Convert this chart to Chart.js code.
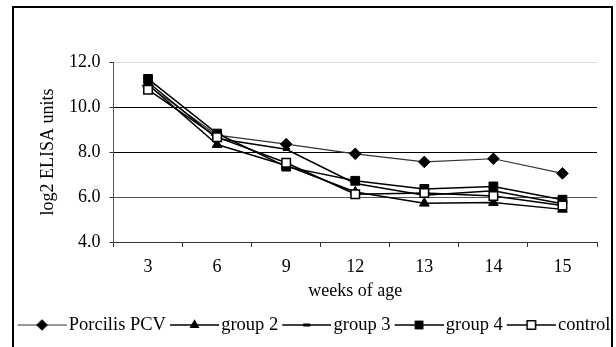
<!DOCTYPE html>
<html><head><meta charset="utf-8">
<script src="https://cdn.jsdelivr.net/npm/chart.js@4"></script>
<style>
html,body{margin:0;padding:0;background:#fff;overflow:hidden;width:616px;height:347px;}
#c{position:absolute;left:0;top:0;background:#fff;}
#frame{position:absolute;left:12px;top:6px;width:597px;height:400px;border:2px solid #000;pointer-events:none;}
</style></head><body>
<canvas id="c" width="632" height="347"></canvas>
<div id="frame"></div>
<script>
const categories = ['3', '6', '9', '12', '13', '14', '15'];
const porcilisPCV = [10.95, 8.75, 8.35, 7.92, 7.56, 7.7, 7.05];
const group2 = [11.0, 8.33, 7.4, 6.22, 5.72, 5.75, 5.45];
const group3 = [11.1, 8.6, 8.12, 6.6, 6.08, 6.28, 5.7];
const group4 = [11.25, 8.82, 7.35, 6.72, 6.36, 6.47, 5.88];
const control = [10.77, 8.66, 7.52, 6.12, 6.18, 6.04, 5.62];
const seriesNames = ['Porcilis PCV', 'group 2', 'group 3', 'group 4', 'control'];
const yTickValues = [4, 6, 8, 10, 12];

const FONT = "'Liberation Serif', 'Times New Roman', serif";

function drawMarker(ctx, shape, x, y) {
  ctx.save();
  ctx.fillStyle = '#000'; ctx.strokeStyle = '#000'; ctx.lineWidth = 1;
  ctx.beginPath();
  if (shape === 'diamond') {
    const r = 5.8;
    ctx.moveTo(x, y - r); ctx.lineTo(x + r, y); ctx.lineTo(x, y + r); ctx.lineTo(x - r, y); ctx.closePath();
    ctx.fill();
  } else if (shape === 'triangle') {
    const r = 5.8;
    ctx.moveTo(x, y - r);
    ctx.lineTo(x + r * Math.sin(2 * Math.PI / 3), y + r / 2);
    ctx.lineTo(x - r * Math.sin(2 * Math.PI / 3), y + r / 2);
    ctx.closePath(); ctx.fill();
  } else if (shape === 'dash') {
    ctx.rect(x - 3.5, y - 1.5, 7, 3); ctx.fill();
  } else if (shape === 'square') {
    ctx.rect(x - 4.4, y - 4.4, 8.8, 8.8); ctx.fill();
  } else if (shape === 'open') {
    ctx.fillStyle = '#fff'; ctx.lineWidth = 1.5;
    ctx.rect(x - 4.2, y - 4.2, 8.4, 8.4); ctx.fill(); ctx.stroke();
  }
  ctx.restore();
}

function legendImg(shape, color, width) {
  const c = document.createElement('canvas');
  c.width = 52; c.height = 16;
  const ctx = c.getContext('2d');
  ctx.strokeStyle = color; ctx.lineWidth = width;
  ctx.beginPath(); ctx.moveTo(3, 8); ctx.lineTo(52, 8); ctx.stroke();
  drawMarker(ctx, shape, 27.5, 8);
  return c;
}

const dashImg = (() => {
  const c = document.createElement('canvas');
  c.width = 7; c.height = 3;
  const ctx = c.getContext('2d');
  ctx.fillStyle = '#000'; ctx.fillRect(0, 0, 7, 3);
  return c;
})();

const shapes = ['diamond', 'triangle', 'dash', 'square', 'open'];
const lineColors = ['#333', '#000', '#000', '#000', '#000'];
const lineWidths = [1.2, 1.5, 1.5, 1.5, 1.5];
const legendImgs = shapes.map((s, i) => legendImg(s, lineColors[i], lineWidths[i]));

Chart.defaults.color = '#000';
Chart.defaults.font.family = FONT;

const seriesData = [porcilisPCV, group2, group3, group4, control];
const pointStyles = ['rectRot', 'triangle', dashImg, 'rect', 'rect'];
const pointRadii = [5.8, 5.6, 3, 6.2, 6];
const pointFills = ['#000', '#000', '#000', '#000', '#fff'];
const pointBorderW = [1, 1, 1, 1, 1.5];

const datasets = seriesData.map((d, i) => ({
  label: seriesNames[i],
  data: d,
  borderColor: lineColors[i],
  borderWidth: lineWidths[i],
  backgroundColor: pointFills[i],
  pointStyle: pointStyles[i],
  pointRadius: pointRadii[i],
  pointHoverRadius: pointRadii[i],
  pointBackgroundColor: pointFills[i],
  pointBorderColor: '#000',
  pointBorderWidth: pointBorderW[i],
  tension: 0,
  fill: false,
  order: 5 - i
}));

new Chart(document.getElementById('c'), {
  type: 'line',
  data: { labels: categories, datasets },
  options: {
    responsive: false,
    animation: false,
    devicePixelRatio: 1,
    layout: { padding: { top: 62, bottom: 2.75, left: 0, right: 0 } },
    plugins: {
      tooltip: { enabled: false },
      legend: {
        position: 'bottom',
        labels: {
          usePointStyle: true,
          pointStyleWidth: 38,
          padding: 8,
          font: { size: 18.5, family: FONT },
          color: '#000',
          generateLabels: (chart) => chart.data.datasets.map((ds, i) => ({
            text: ds.label,
            pointStyle: legendImgs[i],
            fillStyle: '#000',
            strokeStyle: '#000',
            lineWidth: 0,
            hidden: false,
            datasetIndex: i,
            fontColor: '#000'
          }))
        }
      }
    },
    scales: {
      x: {
        type: 'category',
        offset: true,
        afterFit: (s) => { s.height = 65.75; },
        grid: { display: true, drawOnChartArea: false, offset: true, tickLength: 5, color: '#333', tickColor: '#333' },
        border: { display: true, color: '#333', width: 1 },
        ticks: { font: { size: 18, family: FONT }, padding: 9.2, color: '#000', maxRotation: 0 },
        title: { display: true, text: 'weeks of age', font: { size: 18, family: FONT }, color: '#000', padding: { top: 2, bottom: 6 } }
      },
      y: {
        min: 4, max: 12,
        afterFit: (s) => { s.width = 113.5; },
        afterBuildTicks: (s) => { s.ticks = yTickValues.map(v => ({ value: v })); },
        grid: {
          color: (ctx) => {
            const v = ctx.tick && ctx.tick.value;
            if (v === 12) return '#dcdcdc';
            if (v === 6) return '#555';
            return '#000';
          },
          tickColor: '#333',
          tickLength: 4
        },
        border: { display: true, color: '#555', width: 1 },
        ticks: { font: { size: 18, family: FONT }, padding: 9, color: '#000', callback: (v) => Number(v).toFixed(1) },
        title: { display: true, text: 'log2 ELISA units', font: { size: 18, family: FONT }, color: '#000', padding: { top: 37, bottom: 0 } }
      },
      yR: {
        type: 'linear',
        position: 'right',
        display: true,
        afterFit: (s) => { s.width = 35; },
        grid: { display: false },
        border: { display: false },
        ticks: { display: false },
        title: { display: false }
      }
    }
  }
});
</script>
</body></html>
